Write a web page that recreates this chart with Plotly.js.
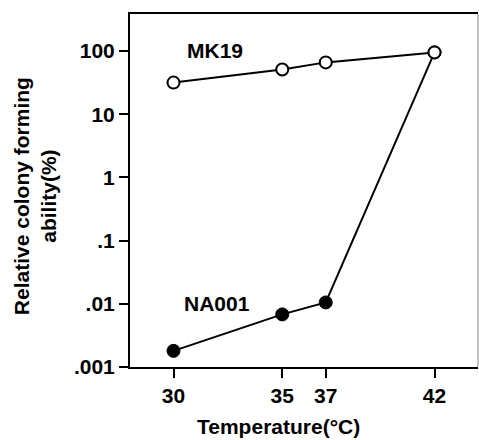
<!DOCTYPE html>
<html>
<head>
<meta charset="utf-8">
<script src="https://cdn.plot.ly/plotly-3.0.1.min.js"></script>
<style>html,body{margin:0;padding:0;background:#fff;}#chart{width:479px;height:440px;}</style>
</head>
<body>
<div id="chart"></div>
<script>
var temperatures = [30, 35, 37, 42];
var mk19 = [31.6, 51, 66, 95];
var na001 = [0.0018, 0.0068, 0.0105, 95];
var yTickVals = [0.001, 0.01, 0.1, 1, 10, 100];
var yTickText = ['.001', '.01', '.1', '1', '10', '100'];
var xTickVals = [30, 35, 37, 42];
var xTitle = 'Temperature(°C)';
var yTitle = 'Relative colony forming<br>ability(%)';

var fontFam = 'Liberation Sans, Arial, Helvetica, sans-serif';
var fs = 21;

var traces = [
  {
    x: temperatures, y: na001, type: 'scatter', mode: 'lines+markers', name: 'NA001',
    line: {color: '#000', width: 2},
    marker: {symbol: 'circle', size: 13, color: '#000', line: {color: '#000', width: 1}}
  },
  {
    x: temperatures, y: mk19, type: 'scatter', mode: 'lines+markers', name: 'MK19',
    line: {color: '#000', width: 2},
    marker: {symbol: 'circle', size: 12, color: '#fff', line: {color: '#000', width: 2}}
  }
];

var layout = {
  width: 479, height: 440,
  margin: {l: 130, r: 1, t: 14, b: 73},
  paper_bgcolor: '#fff', plot_bgcolor: '#fff',
  showlegend: false,
  font: {family: fontFam, size: fs, color: '#000', weight: 'bold'},
  xaxis: {
    range: [28, 44], tickvals: xTickVals, ticks: 'outside', ticklen: 9, tickwidth: 2, tickcolor: '#000',
    showgrid: false, zeroline: false, showline: true, linecolor: '#000', linewidth: 2, mirror: true,
    tickfont: {family: fontFam, size: fs, weight: 'bold'}
  },
  yaxis: {
    type: 'log', range: [-3, 2.585], tickvals: yTickVals, ticktext: yTickText,
    ticks: 'outside', ticklen: 9, tickwidth: 2, tickcolor: '#000',
    showgrid: false, zeroline: false, showline: true, linecolor: '#000', linewidth: 2,
    tickfont: {family: fontFam, size: fs, weight: 'bold'}
  },
  shapes: [
    {type: 'line', xref: 'paper', yref: 'paper', x0: 1, x1: 1, y0: 0, y1: 1, line: {color: '#888', width: 1}}
  ],
  annotations: [
    {x: 31.9, y: 2, xref: 'x', yref: 'y', text: 'MK19', showarrow: false, font: {family: fontFam, size: fs, weight: 'bold'}},
    {x: 32.0, y: -2, xref: 'x', yref: 'y', text: 'NA001', showarrow: false, font: {family: fontFam, size: fs, weight: 'bold'}},
    {x: 0.428, y: -0.168, xref: 'paper', yref: 'paper', xanchor: 'center', yanchor: 'middle', text: xTitle, showarrow: false, font: {family: fontFam, size: fs, weight: 'bold'}},
    {x: -0.273, y: 0.484, xref: 'paper', yref: 'paper', xanchor: 'center', yanchor: 'middle', textangle: -90, text: yTitle, showarrow: false, font: {family: fontFam, size: fs, weight: 'bold'}}
  ]
};

Plotly.newPlot('chart', traces, layout, {displayModeBar: false, staticPlot: true});
</script>
</body>
</html>
